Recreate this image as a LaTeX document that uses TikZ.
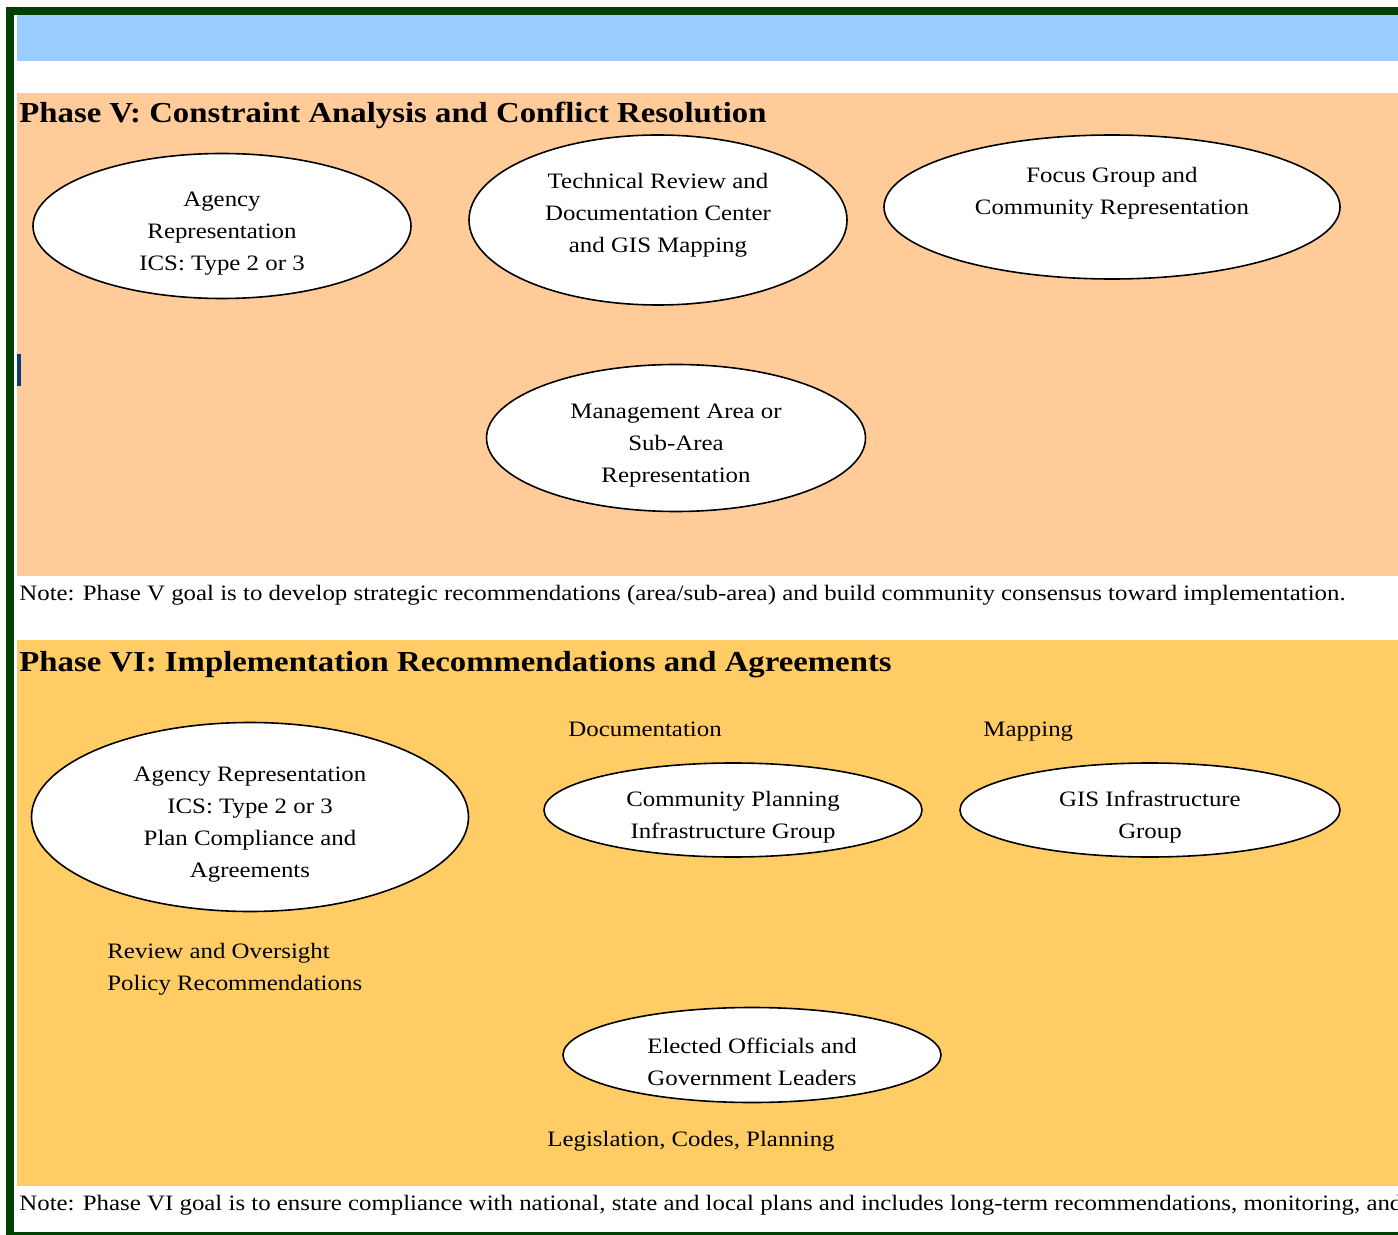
\documentclass[tikz,border=0pt]{standalone}
\usepackage{fontspec}
\setmainfont{Liberation Serif}[FakeStretch=1.13]
\usetikzlibrary{positioning, shapes.geometric}
\definecolor{frameGreen}{RGB}{0,64,0}
\definecolor{headBlue}{RGB}{153,204,255}
\definecolor{phaseFiveBg}{RGB}{255,204,153}
\definecolor{phaseSixBg}{RGB}{255,204,102}
\definecolor{markBlue}{RGB}{10,60,120}
% push the text of an oval down (first line) or up (last line) a little
\newcommand{\ovalpad}{\rule{0pt}{14.5pt}}
\newcommand{\ovallift}{\rule[-7.5pt]{0pt}{0pt}}
\tikzset{
  bodyfont/.style={font=\fontsize{11}{16}\selectfont},
  ovalnode/.style={
    ellipse,
    draw=black,
    line width=0.8pt,
    fill=white,
    inner sep=0pt,
    align=center,
    bodyfont,
  },
  % phase titles, notes and loose labels
  phasetitle/.style={anchor=base west, inner sep=0pt, font=\fontsize{14.5}{18}\selectfont\bfseries},
  notetext/.style={anchor=base west, inner sep=0pt, bodyfont},
  looselabel/.style={inner sep=0pt, align=left, bodyfont},
}

\begin{document}
\begin{tikzpicture}[x=0.5pt, y=-0.5pt]
  \useasboundingbox (0,0) rectangle (1398,1235);
  \clip (0,0) rectangle (1398,1235);

  % frame and bands
  \fill[frameGreen] (6,7) rectangle (1398,15);
  \fill[frameGreen] (6,7) rectangle (14,1235);
  \fill[frameGreen] (6,1232) rectangle (1398,1235);
  \fill[headBlue] (17,15) rectangle (1398,61);
  \fill[phaseFiveBg] (17,93) rectangle (1398,576);
  \fill[phaseSixBg] (17,640) rectangle (1398,1186);
  \fill[markBlue] (17,354) rectangle (21,386);

  % phase V
  \node[phasetitle] (t5) at (19,123) {Phase V: Constraint Analysis and Conflict Resolution};
  \node[ovalnode, minimum width=189pt, minimum height=72.5pt] (agency5) at (222,226)
    {\ovalpad Agency\\Representation\\ICS: Type 2 or 3};
  \node[ovalnode, minimum width=189pt, minimum height=85pt] (techreview) at (658,220)
    {Technical Review and\\Documentation Center\\and GIS Mapping\ovallift};
  \node[ovalnode, minimum width=228pt, minimum height=72pt] (focus) at (1112,207)
    {Focus Group and\\Community Representation\\\mbox{}};
  \node[ovalnode, minimum width=189.5pt, minimum height=73.5pt] (mgmt) at (676,438)
    {\ovalpad Management Area or\\Sub-Area\\Representation};
  \node[notetext] (note5) at (19,600)
    {Note: Phase V goal is to develop strategic recommendations (area/sub-area) and build community consensus toward implementation.};

  % phase VI
  \node[phasetitle] (t6) at (19,671) {Phase VI: Implementation Recommendations and Agreements};
  \node[ovalnode, minimum width=218.5pt, minimum height=94.5pt] (agency6) at (250,817)
    {\ovalpad Agency Representation\\ICS: Type 2 or 3\\Plan Compliance and\\Agreements};
  \node[ovalnode, minimum width=189pt, minimum height=47pt] (commplan) at (733,810)
    {\ovalpad Community Planning\\Infrastructure Group};
  \node[ovalnode, minimum width=190pt, minimum height=47pt] (gis) at (1150,810)
    {\ovalpad GIS Infrastructure\\Group};
  \node[ovalnode, minimum width=189pt, minimum height=47.5pt] (elected) at (752,1055)
    {\ovalpad Elected Officials and\\Government Leaders};
  \node[notetext] (doclabel) at (568,736) {Documentation};
  \node[notetext] (maplabel) at (983,736) {Mapping};
  \node[looselabel, anchor=west] (reviewlabel) at (107,969)
    {Review and Oversight\\Policy Recommendations};
  \node[looselabel] (leglabel) at (691,1141) {Legislation, Codes, Planning};
  \node[notetext] (note6) at (19,1210)
    {Note: Phase VI goal is to ensure compliance with national, state and local plans and includes long-term recommendations, monitoring, and};
\end{tikzpicture}
\end{document}
